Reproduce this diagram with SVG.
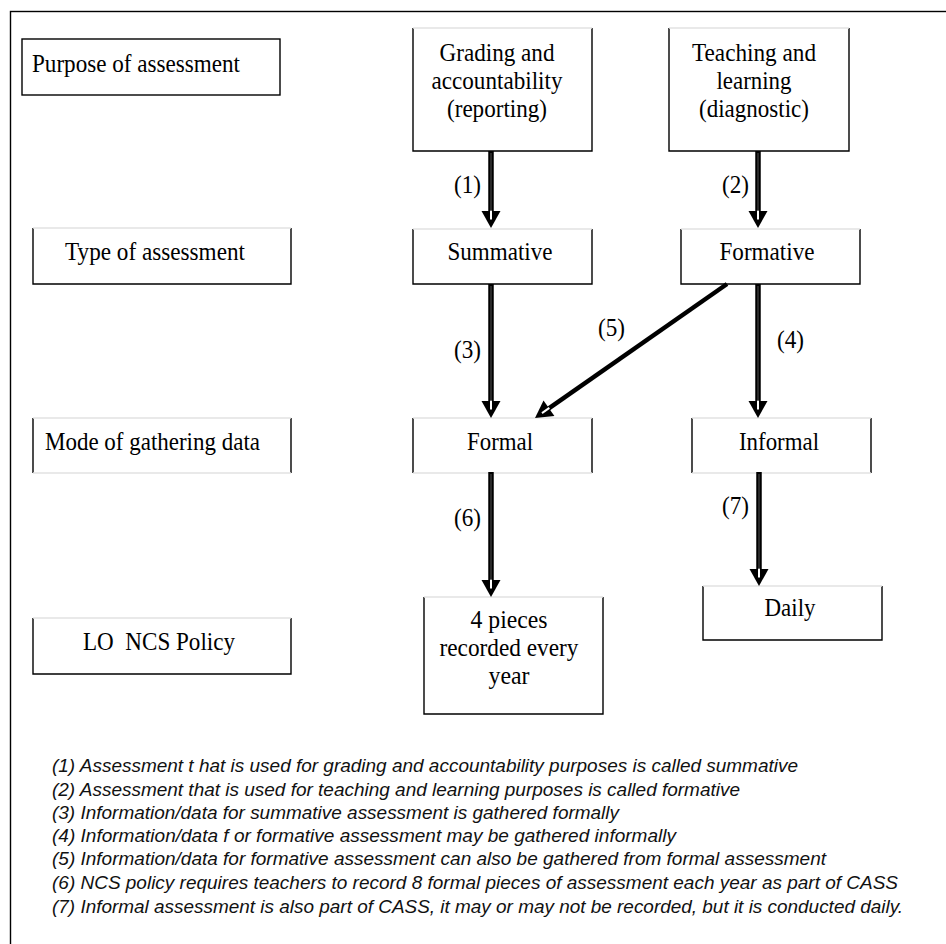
<svg xmlns="http://www.w3.org/2000/svg" width="946" height="944" viewBox="0 0 946 944">
<style>
.dark{fill:none;stroke:#000;stroke-width:1.4}
.light{fill:none;stroke:#e2e2e2;stroke-width:1.4}
.bg{fill:#fff;stroke:none}
.t{font-family:"Liberation Serif","Times New Roman",serif;font-size:24.5px;fill:#000}
.c{text-anchor:middle}
.lab{font-family:"Liberation Serif","Times New Roman",serif;font-size:24.5px;fill:#000}
.note{font-family:"Liberation Sans Narrow","Liberation Sans",Arial,sans-serif;font-style:italic;font-size:19px;fill:#111}
.shaft{stroke:#000;stroke-width:5.5;fill:none;marker-end:url(#head)}
.core{stroke:#555;stroke-width:1;fill:none}
</style>
<defs>
<marker id="head" markerUnits="userSpaceOnUse" orient="auto" refX="0" refY="0" markerWidth="20" markerHeight="20" overflow="visible">
<path d="M9,0 L-8,-9.5 L-8,9.5 Z" fill="#000"/>
<rect x="-8.5" y="-1" width="9" height="2" fill="#fff"/>
</marker>
</defs>
<rect x="0" y="0" width="946" height="944" fill="#fff"/>
<rect id="frame" x="10.5" y="11.5" width="960" height="960" class="dark"/>

<g id="node-purpose">
<rect class="bg" x="22" y="39" width="258" height="56"/>
<rect class="dark" x="22" y="39" width="258" height="56"/>
<text class="t" x="32" y="72" textLength="208" lengthAdjust="spacingAndGlyphs">Purpose of assessment</text>
</g>
<g id="node-grading">
<path class="dark" d="M413,28 V151 H592 V28"/>
<path class="light" d="M413,28 H592"/>
<text class="t c" x="497" y="61" textLength="115" lengthAdjust="spacingAndGlyphs">Grading and</text>
<text class="t c" x="497" y="89" textLength="131" lengthAdjust="spacingAndGlyphs">accountability</text>
<text class="t c" x="497" y="117" textLength="100" lengthAdjust="spacingAndGlyphs">(reporting)</text>
</g>
<g id="node-teaching">
<path class="dark" d="M669,28 V151 H849 V28"/>
<path class="light" d="M669,28 H849"/>
<text class="t c" x="754" y="61" textLength="124" lengthAdjust="spacingAndGlyphs">Teaching and</text>
<text class="t c" x="754" y="89" textLength="75" lengthAdjust="spacingAndGlyphs">learning</text>
<text class="t c" x="754" y="117" textLength="110" lengthAdjust="spacingAndGlyphs">(diagnostic)</text>
</g>
<g id="node-type">
<path class="dark" d="M33,228 V284 H291 V228"/>
<path class="light" d="M33,228 H291"/>
<text class="t" x="65" y="260" textLength="180" lengthAdjust="spacingAndGlyphs">Type of assessment</text>
</g>
<g id="node-summative">
<path class="dark" d="M413,229 V284 H592 V229"/>
<path class="light" d="M413,229 H592"/>
<text class="t c" x="500" y="260" textLength="105" lengthAdjust="spacingAndGlyphs">Summative</text>
</g>
<g id="node-formative">
<path class="dark" d="M681,229 V284 H860 V229"/>
<path class="light" d="M681,229 H860"/>
<text class="t c" x="767" y="260" textLength="95" lengthAdjust="spacingAndGlyphs">Formative</text>
</g>
<g id="node-mode">
<path class="dark" d="M33,418 V473 M291,418 V473"/>
<path class="light" d="M33,418 H291 M33,473 H291"/>
<text class="t" x="45" y="450" textLength="215" lengthAdjust="spacingAndGlyphs">Mode of gathering data</text>
</g>
<g id="node-formal">
<path class="dark" d="M413,418 V473 M592,418 V473"/>
<path class="light" d="M413,418 H592 M413,473 H592"/>
<text class="t c" x="500" y="450" textLength="66" lengthAdjust="spacingAndGlyphs">Formal</text>
</g>
<g id="node-informal">
<path class="dark" d="M692,418 V473 M871,418 V473"/>
<path class="light" d="M692,418 H871 M692,473 H871"/>
<text class="t c" x="779" y="450" textLength="80" lengthAdjust="spacingAndGlyphs">Informal</text>
</g>
<g id="node-lo">
<path class="dark" d="M33,618 V674 H291 V618"/>
<path class="light" d="M33,618 H291"/>
<text class="t" x="83" y="650" xml:space="preserve" textLength="152" lengthAdjust="spacingAndGlyphs">LO  NCS Policy</text>
</g>
<g id="node-pieces">
<path class="dark" d="M424,597 V714 H603 V597"/>
<path class="light" d="M424,597 H603"/>
<text class="t c" x="509" y="628" textLength="77" lengthAdjust="spacingAndGlyphs">4 pieces</text>
<text class="t c" x="509" y="656" textLength="139" lengthAdjust="spacingAndGlyphs">recorded every</text>
<text class="t c" x="509" y="684" textLength="41" lengthAdjust="spacingAndGlyphs">year</text>
</g>
<g id="node-daily">
<path class="dark" d="M703,586 V640 H882 V586"/>
<path class="light" d="M703,586 H882"/>
<text class="t c" x="790" y="616" textLength="51" lengthAdjust="spacingAndGlyphs">Daily</text>
</g>

<g id="connectors">
<line class="shaft" x1="491" y1="151" x2="491" y2="219"/>
<line class="shaft" x1="758" y1="151" x2="758" y2="219"/>
<line class="shaft" x1="491" y1="284" x2="491" y2="409"/>
<line class="shaft" x1="758" y1="284" x2="758" y2="409"/>
<line class="shaft" style="stroke-width:4.5" x1="727" y1="284" x2="542.4" y2="412.8"/>
<line class="shaft" x1="491" y1="472" x2="491" y2="588"/>
<line class="shaft" x1="759" y1="472" x2="759" y2="577"/>
<line class="core" x1="491" y1="153" x2="491" y2="211"/>
<line class="core" x1="758" y1="153" x2="758" y2="211"/>
<line class="core" x1="491" y1="286" x2="491" y2="401"/>
<line class="core" x1="758" y1="286" x2="758" y2="401"/>
<line class="core" x1="491" y1="474" x2="491" y2="580"/>
<line class="core" x1="759" y1="474" x2="759" y2="569"/>
<text class="lab" x="454" y="193" textLength="27" lengthAdjust="spacingAndGlyphs">(1)</text>
<text class="lab" x="722" y="193" textLength="27" lengthAdjust="spacingAndGlyphs">(2)</text>
<text class="lab" x="454" y="358" textLength="27" lengthAdjust="spacingAndGlyphs">(3)</text>
<text class="lab" x="777" y="348" textLength="27" lengthAdjust="spacingAndGlyphs">(4)</text>
<text class="lab" x="598" y="336" textLength="27" lengthAdjust="spacingAndGlyphs">(5)</text>
<text class="lab" x="454" y="526" textLength="27" lengthAdjust="spacingAndGlyphs">(6)</text>
<text class="lab" x="722" y="514" textLength="27" lengthAdjust="spacingAndGlyphs">(7)</text>
</g>

<g id="notes">
<text class="note" x="52" y="772" textLength="746" lengthAdjust="spacingAndGlyphs">(1) Assessment t hat is used for grading and accountability purposes is called summative</text>
<text class="note" x="52" y="796" textLength="688" lengthAdjust="spacingAndGlyphs">(2) Assessment that is used for teaching and learning purposes is called formative</text>
<text class="note" x="52" y="819" textLength="567" lengthAdjust="spacingAndGlyphs">(3) Information/data for summative assessment is gathered formally</text>
<text class="note" x="52" y="842" textLength="624" lengthAdjust="spacingAndGlyphs">(4) Information/data f or formative assessment may be gathered informally</text>
<text class="note" x="52" y="865" textLength="774" lengthAdjust="spacingAndGlyphs">(5) Information/data for formative assessment can also be gathered from formal assessment</text>
<text class="note" x="52" y="889" textLength="846" lengthAdjust="spacingAndGlyphs">(6) NCS policy requires teachers to record 8 formal pieces of assessment each year as part of CASS</text>
<text class="note" x="52" y="913" textLength="851" lengthAdjust="spacingAndGlyphs">(7) Informal assessment is also part of CASS, it may or may not be recorded, but it is conducted daily.</text>
</g>
</svg>
